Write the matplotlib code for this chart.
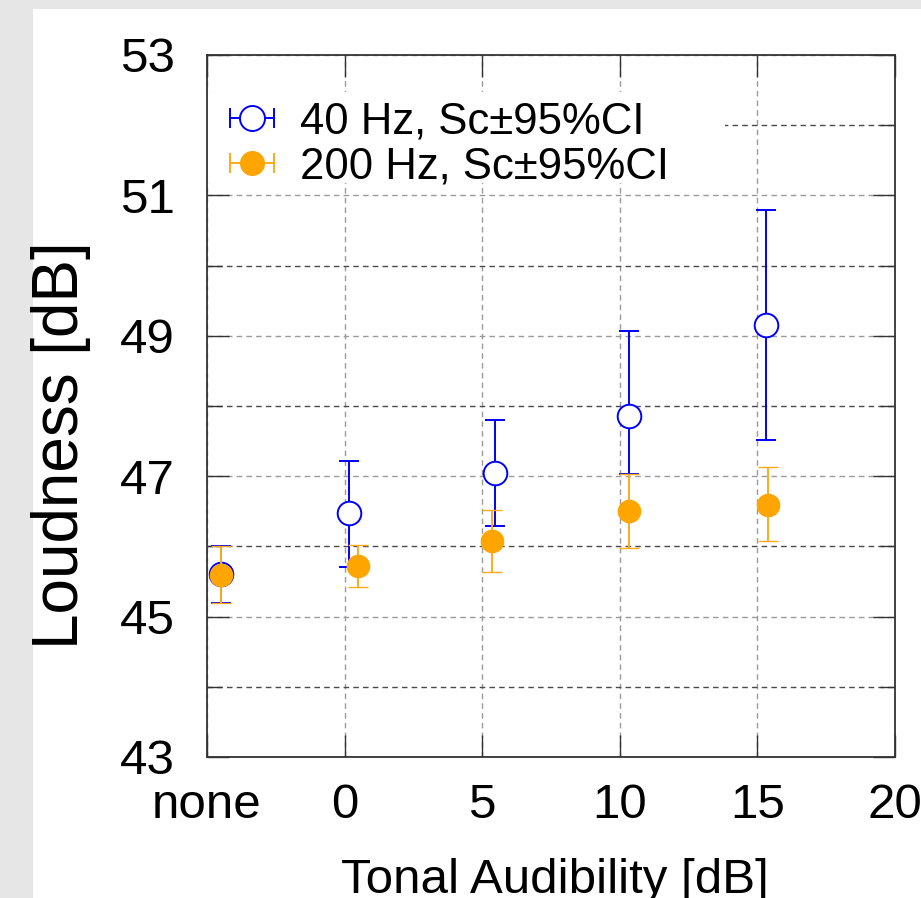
"""Loudness vs tonal audibility, 40 Hz and 200 Hz tones with 95% CI."""

import matplotlib
matplotlib.use("Agg")
import matplotlib.pyplot as plt
from matplotlib.legend_handler import HandlerBase
from matplotlib.lines import Line2D
from matplotlib.patches import Rectangle
from matplotlib.ticker import MultipleLocator

plt.rcParams['font.family'] = ['Liberation Sans', 'DejaVu Sans']

# x positions (tonal audibility, dB); -5 stands for "none"
x_40 = [-4.5, 0.15, 5.45, 10.35, 15.3]
y_40 = [45.6, 46.48, 47.05, 47.86, 49.15]
lo_40 = [45.2, 45.70, 46.29, 47.03, 47.52]
hi_40 = [46.0, 47.22, 47.80, 49.07, 50.79]

x_200 = [-4.5, 0.5, 5.35, 10.35, 15.4]
y_200 = [45.59, 45.72, 46.08, 46.50, 46.59]
lo_200 = [45.20, 45.42, 45.64, 45.98, 46.07]
hi_200 = [46.00, 46.02, 46.52, 47.03, 47.13]

xticks = [-5, 0, 5, 10, 15, 20]
xtick_labels = ["none", "0", "5", "10", "15", "20"]
yticks = [43, 45, 47, 49, 51, 53]

labels = ["40 Hz, Sc\u00b195%CI", "200 Hz, Sc\u00b195%CI"]


class HorizErrHandler(HandlerBase):
    """Legend key drawn as a horizontal error bar with caps and a marker."""

    def create_artists(self, legend, orig_handle, xdescent, ydescent,
                       width, height, fontsize, trans):
        data_line = orig_handle[0]
        bar_color = orig_handle[2][0].get_color()[0]
        y = height / 2 - ydescent
        x0, x1 = -xdescent, width - xdescent
        bar = Line2D([x0, x1], [y, y], color=bar_color, lw=1.4, transform=trans)
        caps = Line2D([x0, x1], [y, y], ls="none", marker="|", markersize=15,
                      mew=1.4, color=bar_color, transform=trans)
        mk = Line2D([(x0 + x1) / 2], [y], ls="none", marker="o",
                    markersize=data_line.get_markersize() + 1,
                    mfc=data_line.get_markerfacecolor(),
                    mec=data_line.get_markeredgecolor(),
                    mew=data_line.get_markeredgewidth(), transform=trans)
        return [bar, caps, mk]


fig = plt.figure(figsize=(9.21, 8.98), dpi=100)
fig.patch.set_facecolor("#e6e6e6")
fig.patches.append(Rectangle((33 / 921, 0), 1, 1 - 9 / 898,
                             transform=fig.transFigure, facecolor="white",
                             edgecolor="none", zorder=-5))

ax = fig.add_axes([207 / 921, 1 - 757 / 898, 688 / 921, 702 / 898])
ax.set_zorder(1)
ax.set_xlim(-5, 20)
ax.set_ylim(43, 53)

err_40 = [[y - l for y, l in zip(y_40, lo_40)], [h - y for y, h in zip(y_40, hi_40)]]
err_200 = [[y - l for y, l in zip(y_200, lo_200)], [h - y for y, h in zip(y_200, hi_200)]]

h1 = ax.errorbar(x_40, y_40, yerr=err_40, fmt="o", color="blue", mfc="white",
                 mec="blue", mew=1.4, markersize=17, elinewidth=1.4,
                 capsize=7, capthick=1.4, zorder=3)
h2 = ax.errorbar(x_200, y_200, yerr=err_200, fmt="o", color="orange",
                 ecolor="#ffaa1a", mfc="orange", mec="orange", mew=1.0,
                 markersize=16, elinewidth=1.4, capsize=7.5, capthick=1.4,
                 zorder=4)

ax.set_xticks(xticks)
ax.set_xticklabels(xtick_labels)
ax.set_yticks(yticks)
ax.yaxis.set_minor_locator(MultipleLocator(1))

ax.grid(True, which="major", color="#9a9a9a", lw=1.0, ls=(0, (4, 3)))
ax.grid(True, which="minor", axis="y", color="#4a4a4a", lw=1.0, ls=(0, (4, 3)))
ax.set_axisbelow(True)

ax.tick_params(which="major", direction="in", length=16, width=1.0,
               top=True, right=True, labelsize=35.5, color="#333333")
ax.tick_params(axis="x", which="major", pad=19)
ax.tick_params(axis="y", which="major", pad=23)
ax.tick_params(which="minor", direction="in", length=11, width=1.0,
               left=True, right=True, color="#333333")
for sp in ax.spines.values():
    sp.set_linewidth(1.3)
    sp.set_color("#333333")

# white key box hiding the grid behind the legend
ax.add_patch(Rectangle((0, (757 - 183) / 702), (725 - 207) / 688, 91 / 702,
                       transform=ax.transAxes, facecolor="white",
                       edgecolor="none", zorder=2))
ax.legend([h1, h2], labels, loc="center left",
          bbox_to_anchor=((230 - 207) / 688, (757 - 144.5) / 702),
          frameon=False, fontsize=31.5, handlelength=1.0, handletextpad=0.6,
          labelspacing=0.09, borderpad=0, borderaxespad=0,
          handler_map={type(h1): HorizErrHandler()})

fig.text(61 / 921, 1 - 445 / 898, "Loudness [dB]", rotation=90,
         ha="center", va="center", fontsize=46)
fig.text(555 / 921, 1 - 893 / 898, "Tonal Audibility [dB]",
         ha="center", va="baseline", fontsize=35.5)

fig.savefig("out.png", dpi=100, facecolor=fig.get_facecolor())
